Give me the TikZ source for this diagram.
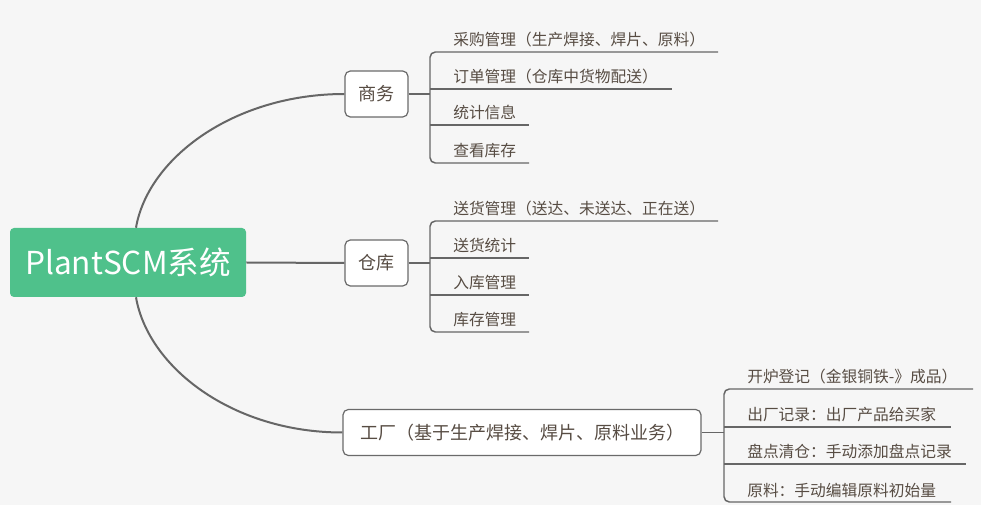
\documentclass[tikz,border=0pt]{standalone}
\usepackage{fontspec}
\setmainfont{Noto Sans CJK SC}
\definecolor{bgc}{HTML}{F6F6F6}
\definecolor{rootc}{HTML}{4FC18B}
\definecolor{linec}{HTML}{666666}
\definecolor{boxc}{HTML}{6A6A6A}
\definecolor{txtc}{HTML}{574C43}
\begin{document}
\begin{tikzpicture}[x=0.75pt,y=-0.75pt,
  rootbox/.style={fill=rootc, rounded corners=3pt, text=white, minimum width=177pt, minimum height=51.75pt, inner sep=0pt, font=\fontsize{23.7}{26}\selectfont},
  topic/.style={draw=boxc, line width=0.9pt, fill=white, rounded corners=4pt, minimum width=47.25pt, minimum height=34.5pt, inner sep=0pt, text=txtc, font=\fontsize{13.5}{15}\selectfont},
  leaf/.style={anchor=base west, inner sep=0pt, text=txtc, font=\fontsize{11.8}{13}\selectfont},
  curve/.style={draw=linec, line width=1.5pt},
  leafline/.style={draw=linec, line width=1.1pt, rounded corners=4pt}
]
\useasboundingbox (0,0) rectangle (981,505);
\fill[bgc] (0,0) rectangle (981,505);

% root and topics
\node[rootbox] (root) at (128,262.5) {PlantSCM系统};
\node[topic] (sw) at (376.5,94) {商务};
\node[topic] (ck) at (376.5,263) {仓库};
\node[topic, minimum width=268.5pt] (gc) at (522,432.5) {工厂（基于生产焊接、焊片、原料业务）};

% main connectors
\draw[curve] ([xshift=6pt]root.north) .. controls +(12,-70) and +(-110,0) .. (sw.west);
\draw[curve] (root.east) -- (ck.west);
\draw[curve] ([xshift=6pt]root.south) .. controls +(12,70) and +(-110,0) .. (gc.west);

% group 1: 商务
\coordinate (s1) at (430,94);
\node[leaf] (a1) at (453,46) {采购管理（生产焊接、焊片、原料）};
\node[leaf] (a2) at (453,83) {订单管理（仓库中货物配送）};
\node[leaf] (a3) at (453,119) {统计信息};
\node[leaf] (a4) at (453,157) {查看库存};
\coordinate (a1e) at (718,52);
\coordinate (a2e) at (672,89);
\coordinate (a3e) at (529,125);
\coordinate (a4e) at (529,163);
\draw[leafline] (sw.east) -- (s1);
\draw[leafline] (a1e) -- (s1 |- a1e) -- (s1 |- a4e) -- (a4e);
\draw[leafline] (s1 |- a2e) -- (a2e);
\draw[leafline] (s1 |- a3e) -- (a3e);

% group 2: 仓库
\coordinate (s2) at (430,263);
\node[leaf] (b1) at (453,215) {送货管理（送达、未送达、正在送）};
\node[leaf] (b2) at (453,252) {送货统计};
\node[leaf] (b3) at (453,289) {入库管理};
\node[leaf] (b4) at (453,326) {库存管理};
\coordinate (b1e) at (718,221);
\coordinate (b2e) at (529,258);
\coordinate (b3e) at (529,295);
\coordinate (b4e) at (529,332);
\draw[leafline] (ck.east) -- (s2);
\draw[leafline] (b1e) -- (s2 |- b1e) -- (s2 |- b4e) -- (b4e);
\draw[leafline] (s2 |- b2e) -- (b2e);
\draw[leafline] (s2 |- b3e) -- (b3e);

% group 3: 工厂
\coordinate (s3) at (724,432.5);
\node[leaf] (c1) at (747,383) {开炉登记（金银铜铁-》成品）};
\node[leaf] (c2) at (747,421) {出厂记录：出厂产品给买家};
\node[leaf] (c3) at (747,458) {盘点清仓：手动添加盘点记录};
\node[leaf] (c4) at (747,496) {原料：手动编辑原料初始量};
\coordinate (c1e) at (973,389);
\coordinate (c2e) at (951,427);
\coordinate (c3e) at (966,464);
\coordinate (c4e) at (951,502);
\draw[leafline] (gc.east) -- (s3);
\draw[leafline] (c1e) -- (s3 |- c1e) -- (s3 |- c4e) -- (c4e);
\draw[leafline] (s3 |- c2e) -- (c2e);
\draw[leafline] (s3 |- c3e) -- (c3e);
\end{tikzpicture}
\end{document}
